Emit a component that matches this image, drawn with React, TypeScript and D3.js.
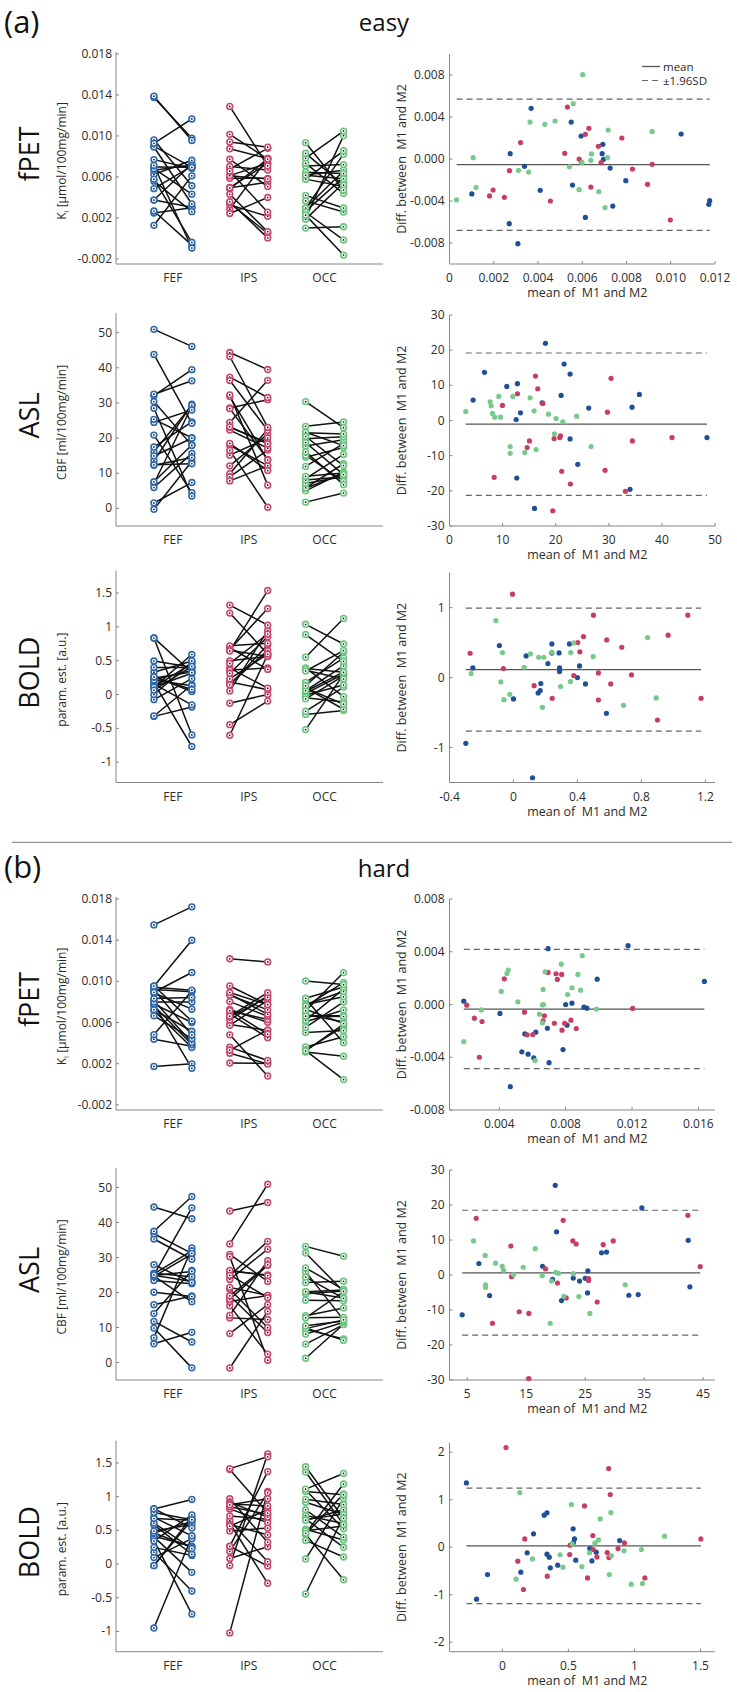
import React from 'react';
import * as d3 from 'd3';

type Pt = [number, number]; // [mean of M1 and M2, M2 - M1]

const regions = ['FEF', 'IPS', 'OCC'];
const ringColors = ['#2f69ad', '#c9476c', '#6cc27f'];
const dotColors = ['#1f4f97', '#c83e62', '#78c98c'];

// ---------- fPET easy (values x 1e-3) ----------
const fpetEasyFEF: Pt[] = [[3.69,4.83],[5.50,3.52],[5.95,2.19],[6.93,1.40],[6.90,0.51],[6.96,-0.03],[7.26,-0.86],[3.39,-0.70],[2.74,0.51],[1.01,-3.33],[4.10,-2.98],[5.56,-2.48],[7.97,-2.06],[7.38,-4.48],[6.14,-5.56],[2.70,-6.16],[3.09,-8.06],[10.47,2.38],[11.76,-3.97],[11.72,-4.32]];
const fpetEasyIPS: Pt[] = [[5.33,4.95],[6.30,2.92],[6.14,2.35],[7.79,2.0],[3.21,1.56],[5.21,0.54],[6.73,1.21],[5.86,0.0],[5.96,-0.32],[6.85,-0.35],[9.16,-0.51],[8.27,-0.95],[2.71,-1.11],[1.97,-2.95],[1.81,-3.52],[2.48,-3.65],[4.56,-4.0],[6.39,-2.67],[8.95,-2.41],[9.98,-5.81]];
const fpetEasyOCC: Pt[] = [[6.02,8.03],[5.59,5.27],[3.64,3.52],[4.31,3.30],[4.77,3.62],[7.17,2.76],[9.16,2.63],[1.07,0.13],[6.42,0.48],[6.39,-0.13],[7.14,0.13],[5.42,-0.73],[5.99,-0.35],[3.12,-1.08],[3.58,-1.24],[1.20,-2.70],[5.86,-2.92],[6.75,-3.11],[0.32,-3.90],[7.03,-4.63]];
const fpetEasyStats = [-0.54, 5.71, -6.79]; // mean, +1.96SD, -1.96SD

// ---------- ASL easy ----------
const aslEasyFEF: Pt[] = [[18.07,21.96],[21.58,16.06],[22.71,13.21],[6.59,13.69],[10.79,9.70],[12.80,10.46],[4.45,5.80],[21.02,7.13],[35.76,7.41],[13.36,2.19],[12.55,0.29],[26.22,3.52],[34.38,3.80],[22.71,-5.23],[48.49,-4.85],[24.15,-12.45],[12.67,-16.35],[34.0,-19.58],[16.0,-25.0],[17.44,5.04]];
const aslEasyIPS: Pt[] = [[16.19,12.64],[16.62,9.03],[30.43,11.98],[12.80,7.60],[9.97,4.28],[17.57,4.85],[29.74,2.38],[19.70,-5.13],[20.89,-4.37],[20.77,-4.85],[15.06,-5.80],[14.62,-7.70],[34.44,-5.80],[41.91,-4.85],[21.14,-14.45],[29.30,-14.16],[22.77,-18.06],[33.12,-20.15],[8.41,-16.16],[19.45,-25.67]];
const aslEasyOCC: Pt[] = [[3.07,2.57],[7.65,5.32],[7.84,4.18],[9.28,6.84],[11.92,6.84],[15.18,6.46],[8.09,2.0],[8.53,0.95],[9.60,0.95],[15.93,2.76],[18.63,1.81],[20.08,0.57],[21.33,-0.38],[23.96,1.24],[19.76,-3.80],[11.42,-7.41],[11.42,-9.32],[14.18,-9.13],[16.31,-8.27],[26.66,-7.41]];
const aslEasyStats = [-1.05, 19.2, -21.3];

// ---------- BOLD easy ----------
const boldEasyFEF: Pt[] = [[-0.298,-0.940],[-0.254,0.138],[-0.088,0.458],[0.079,0.310],[0.0,-0.305],[0.240,0.482],[0.215,0.200],[0.285,0.353],[0.350,0.482],[0.288,0.138],[0.288,0.086],[0.413,0.167],[0.40,0.0],[0.45,-0.091],[0.171,-0.086],[0.154,-0.220],[0.167,-0.186],[0.581,-0.511],[0.119,-1.432],[0.24,0.35]];
const boldEasyIPS: Pt[] = [[-0.006,1.193],[-0.271,0.348],[-0.063,0.129],[0.129,-0.115],[0.242,-0.296],[0.377,0.029],[0.402,0.501],[0.438,0.587],[0.415,0.368],[0.50,0.893],[0.583,0.539],[0.531,0.067],[0.531,-0.320],[0.608,-0.091],[0.677,0.434],[0.738,0.038],[0.90,-0.606],[0.967,0.606],[1.090,0.893],[1.173,-0.296]];
const boldEasyOCC: Pt[] = [[-0.110,0.816],[-0.265,0.057],[-0.069,0.358],[-0.079,-0.062],[-0.060,-0.315],[-0.023,-0.239],[0.067,0.148],[0.106,0.339],[0.158,0.291],[0.190,0.291],[0.240,0.363],[0.181,-0.425],[0.294,-0.129],[0.356,-0.057],[0.358,0.358],[0.377,0.496],[0.498,0.301],[0.688,-0.396],[0.838,0.573],[0.892,-0.291]];
const boldEasyStats = [0.115, 0.993, -0.764];

// ---------- fPET hard (values x 1e-3) ----------
const fpetHardFEF: Pt[] = [[1.86,0.25],[4.04,-0.68],[4.66,-6.23],[5.36,-3.59],[5.74,-3.77],[6.08,-4.05],[5.54,-2.23],[6.20,-2.10],[6.94,4.23],[6.90,-1.80],[7.0,-4.41],[7.84,-3.42],[8.0,0.0],[8.38,0.10],[8.08,-1.57],[9.10,-0.20],[9.28,-0.28],[9.90,1.92],[11.76,4.46],[16.36,1.75]];
const fpetHardIPS: Pt[] = [[2.04,-0.05],[2.50,-1.04],[2.96,-1.29],[2.80,-4.0],[4.30,1.95],[5.52,-0.58],[5.68,-2.30],[6.02,-2.28],[6.64,-1.24],[6.72,-0.86],[6.94,2.43],[7.32,-1.42],[7.42,2.33],[7.50,1.90],[7.76,2.28],[7.78,-1.95],[7.94,-1.42],[8.32,-1.19],[8.64,-1.82],[12.04,-0.30]];
const fpetHardOCC: Pt[] = [[1.86,-2.81],[2.92,-0.41],[4.12,0.99],[4.46,2.35],[4.54,2.61],[5.12,0.20],[6.42,-0.73],[6.60,-1.39],[6.64,1.14],[6.66,0.0],[6.76,2.48],[6.16,-4.25],[7.74,3.06],[8.12,0.76],[8.38,1.27],[8.74,2.28],[8.90,1.09],[9.00,3.70],[9.86,-0.35],[6.60,-0.03]];
const fpetHardStats = [-0.35, 4.18, -4.86];

// ---------- ASL hard ----------
const aslHardFEF: Pt[] = [[4.15,-11.37],[6.98,3.28],[8.79,-5.88],[17.77,2.50],[19.46,-1.25],[19.92,25.63],[20.14,12.33],[20.99,-7.32],[22.97,-0.87],[24.04,-1.73],[25.0,-0.96],[25.45,1.16],[25.40,-5.11],[27.77,6.36],[28.62,6.55],[32.40,-5.78],[33.98,-5.59],[34.60,19.17],[42.46,9.92],[42.74,-3.37]];
const aslHardIPS: Pt[] = [[6.53,16.18],[9.29,-13.78],[12.40,8.29],[12.51,-0.48],[13.81,-10.50],[15.45,-10.98],[18.28,1.73],[20.31,-2.31],[21.27,15.61],[21.78,-6.55],[22.91,9.73],[23.47,8.86],[25.56,-1.06],[25.56,-1.54],[27.03,-7.71],[28.05,8.67],[29.75,9.73],[42.40,17.05],[44.49,2.41],[15.45,-29.58]];
const aslHardOCC: Pt[] = [[6.07,9.73],[8.05,5.59],[8.11,-2.79],[8.11,-3.56],[9.80,3.37],[10.93,2.50],[11.16,1.35],[12.85,0.10],[14.49,2.22],[16.53,7.51],[17.71,-0.19],[19.29,-1.73],[19.07,-13.78],[20.03,0.77],[20.48,0.48],[21.38,-6.07],[23.02,0.39],[23.93,-6.17],[25.79,-10.98],[31.78,-2.79]];
const aslHardStats = [0.58, 18.5, -17.2];

// ---------- BOLD hard ----------
const boldHardFEF: Pt[] = [[-0.272,1.354],[-0.195,-1.095],[-0.112,-0.575],[0.140,-0.526],[0.188,-0.119],[0.236,0.281],[0.317,0.674],[0.338,0.723],[0.338,-0.147],[0.355,-0.211],[0.363,-0.435],[0.419,-0.379],[0.536,0.386],[0.546,0.175],[0.538,0.098],[0.556,-0.274],[0.662,-0.028],[0.678,-0.288],[0.711,-0.105],[0.888,0.140]];
const boldHardIPS: Pt[] = [[0.028,2.098],[0.117,-0.295],[0.170,0.175],[0.160,-0.891],[0.340,-0.611],[0.510,-0.154],[0.513,0.042],[0.622,0.870],[0.645,-0.646],[0.685,0.246],[0.688,-0.049],[0.716,-0.204],[0.794,-0.112],[0.805,1.656],[0.817,1.109],[0.807,-0.218],[0.876,-0.028],[0.924,0.091],[1.079,-0.646],[1.503,0.175]];
const boldHardOCC: Pt[] = [[0.104,-0.674],[0.132,1.151],[0.228,-0.246],[0.437,-0.161],[0.459,-0.421],[0.523,0.898],[0.528,0.070],[0.602,-0.407],[0.660,-0.119],[0.701,0.084],[0.728,0.154],[0.741,0.596],[0.810,-0.575],[0.822,0.730],[0.825,-0.182],[0.921,-0.077],[0.975,-0.779],[1.053,-0.049],[1.061,-0.765],[1.228,0.232]];
const boldHardStats = [0.028, 1.242, -1.186];

// ---------- ticks ----------
const fpetLeftTicks = [-0.002, 0.002, 0.006, 0.010, 0.014, 0.018];
const aslLeftTicks = [0, 10, 20, 30, 40, 50];
const boldLeftTicks = [-1, -0.5, 0, 0.5, 1, 1.5];
const fpetDiffTicks = [-0.008, -0.004, 0, 0.004, 0.008];
const aslDiffTicks = [-30, -20, -10, 0, 10, 20, 30];
const boldEasyDiffTicks = [-1, 0, 1];
const boldHardDiffTicks = [-2, -1, 0, 1, 2];
const fpetEasyMeanTicks = [0, 0.002, 0.004, 0.006, 0.008, 0.010, 0.012];
const fpetHardMeanTicks = [0.004, 0.008, 0.012, 0.016];
const aslEasyMeanTicks = [0, 10, 20, 30, 40, 50];
const aslHardMeanTicks = [5, 15, 25, 35, 45];
const boldEasyMeanTicks = [-0.4, 0, 0.4, 0.8, 1.2];
const boldHardMeanTicks = [0, 0.5, 1, 1.5];

const f3 = (v: number) => (v === 0 ? '0.000' : v.toFixed(3));
const f3x = (v: number) => (v === 0 ? '0' : v.toFixed(3));
const fPlain = (v: number) => String(v);

type Row = {
  name: string; unit: React.ReactNode; top: number; bottom: number; k: number;
  data: Pt[][]; stats: number[];
  leftDomain: [number, number]; leftTicks: number[]; leftFmt: (v: number) => string;
  baX: [number, number]; baXTicks: number[]; baXFmt: (v: number) => string;
  baY: [number, number]; baYTicks: number[]; baYFmt: (v: number) => string;
};

const kiLabel = (
  <>K<tspan fontSize="8" dy="3">i</tspan><tspan dy="-3"> [µmol/100mg/min]</tspan></>
);

const rows: Row[] = [
  { name: 'fPET', unit: kiLabel, top: 54, bottom: 264, k: 1e-3, data: [fpetEasyFEF, fpetEasyIPS, fpetEasyOCC], stats: fpetEasyStats,
    leftDomain: [-0.0025, 0.018], leftTicks: fpetLeftTicks, leftFmt: f3,
    baX: [0, 0.012], baXTicks: fpetEasyMeanTicks, baXFmt: f3x, baY: [-0.01, 0.01], baYTicks: fpetDiffTicks, baYFmt: f3 },
  { name: 'ASL', unit: 'CBF [ml/100mg/min]', top: 315, bottom: 526, k: 1, data: [aslEasyFEF, aslEasyIPS, aslEasyOCC], stats: aslEasyStats,
    leftDomain: [-5, 55], leftTicks: aslLeftTicks, leftFmt: fPlain,
    baX: [0, 50], baXTicks: aslEasyMeanTicks, baXFmt: fPlain, baY: [-30, 30], baYTicks: aslDiffTicks, baYFmt: fPlain },
  { name: 'BOLD', unit: 'param. est. [a.u.]', top: 572.7, bottom: 782.5, k: 1, data: [boldEasyFEF, boldEasyIPS, boldEasyOCC], stats: boldEasyStats,
    leftDomain: [-1.3, 1.8], leftTicks: boldLeftTicks, leftFmt: fPlain,
    baX: [-0.4, 1.26], baXTicks: boldEasyMeanTicks, baXFmt: fPlain, baY: [-1.5, 1.5], baYTicks: boldEasyDiffTicks, baYFmt: fPlain },
  { name: 'fPET', unit: kiLabel, top: 899, bottom: 1110, k: 1e-3, data: [fpetHardFEF, fpetHardIPS, fpetHardOCC], stats: fpetHardStats,
    leftDomain: [-0.0025, 0.018], leftTicks: fpetLeftTicks, leftFmt: f3,
    baX: [0.001, 0.017], baXTicks: fpetHardMeanTicks, baXFmt: f3x, baY: [-0.008, 0.008], baYTicks: fpetDiffTicks, baYFmt: f3 },
  { name: 'ASL', unit: 'CBF [ml/100mg/min]', top: 1170, bottom: 1380, k: 1, data: [aslHardFEF, aslHardIPS, aslHardOCC], stats: aslHardStats,
    leftDomain: [-5, 55], leftTicks: aslLeftTicks, leftFmt: fPlain,
    baX: [2, 47], baXTicks: aslHardMeanTicks, baXFmt: fPlain, baY: [-30, 30], baYTicks: aslDiffTicks, baYFmt: fPlain },
  { name: 'BOLD', unit: 'param. est. [a.u.]', top: 1442.7, bottom: 1651.7, k: 1, data: [boldHardFEF, boldHardIPS, boldHardOCC], stats: boldHardStats,
    leftDomain: [-1.3, 1.8], leftTicks: boldLeftTicks, leftFmt: fPlain,
    baX: [-0.4, 1.61], baXTicks: boldHardMeanTicks, baXFmt: fPlain, baY: [-2.2, 2.2], baYTicks: boldHardDiffTicks, baYFmt: fPlain },
];

const FONT = "'Open Sans', 'Noto Sans', sans-serif";
const AXIS = '#8a8580';
const TXT = '#2b2b2b';
const LX0 = 116, LX1 = 383, RX0 = 449.5, RX1 = 715;
const PRE: React.CSSProperties = { whiteSpace: 'pre' };

function RowView({ row }: { row: Row }) {
  const { top, bottom, k } = row;
  const xCat = d3.scaleLinear().domain([0.25, 3.77]).range([LX0, LX1]);
  const yL = d3.scaleLinear().domain(row.leftDomain).range([bottom, top]);
  const xB = d3.scaleLinear().domain(row.baX).range([RX0, RX1]);
  const yB = d3.scaleLinear().domain(row.baY).range([bottom, top]);
  const mid = (top + bottom) / 2;
  const allMeans = row.data.flat().map((p) => p[0] * k);
  const [mMin, mMax] = d3.extent(allMeans) as [number, number];
  return (
    <g>
      {/* row titles */}
      <text transform={`translate(39,${mid - 5}) rotate(-90)`} textAnchor="middle" fontSize="27" fill="#111">{row.name}</text>
      <text transform={`translate(66,${mid + 2}) rotate(-90)`} textAnchor="middle" fontSize="12" fill={TXT}>{row.unit}</text>

      {/* left axes */}
      <line x1={LX0} x2={LX0} y1={top - 2} y2={bottom} stroke={AXIS} strokeWidth={1} />
      <line x1={LX0} x2={LX1} y1={bottom} y2={bottom} stroke={AXIS} strokeWidth={1} />
      {row.leftTicks.map((t) => (
        <g key={t}>
          <line x1={LX0} x2={LX0 + 3} y1={yL(t)} y2={yL(t)} stroke={AXIS} />
          <text x={LX0 - 4} y={yL(t) + 4} textAnchor="end" fontSize="12" fill={TXT}>{row.leftFmt(t)}</text>
        </g>
      ))}
      {regions.map((r, i) => (
        <text key={r} x={xCat(i + 1)} y={bottom + 18} textAnchor="middle" fontSize="12" fill={TXT}>{r}</text>
      ))}
      {/* pairs */}
      {row.data.map((pts, i) => (
        <g key={'l' + i}>
          {pts.map((p, j) => (
            <line key={j} x1={xCat(i + 0.75)} x2={xCat(i + 1.25)} y1={yL((p[0] - p[1] / 2) * k)} y2={yL((p[0] + p[1] / 2) * k)} stroke="#111" strokeWidth={1.5} />
          ))}
        </g>
      ))}
      {row.data.map((pts, i) => (
        <g key={'c' + i}>
          {pts.flatMap((p, j) => [
            [i + 0.75, (p[0] - p[1] / 2) * k, j * 2],
            [i + 1.25, (p[0] + p[1] / 2) * k, j * 2 + 1],
          ]).map(([cx, v, key]) => (
            <g key={key}>
              <circle cx={xCat(cx)} cy={yL(v)} r={2.9} fill="white" stroke={ringColors[i]} strokeWidth={1.6} />
              <circle cx={xCat(cx)} cy={yL(v)} r={0.85} fill="#111" />
            </g>
          ))}
        </g>
      ))}

      {/* right BA axes */}
      <line x1={RX0} x2={RX0} y1={top} y2={bottom} stroke={AXIS} strokeWidth={1} />
      <line x1={RX0} x2={RX1} y1={bottom} y2={bottom} stroke={AXIS} strokeWidth={1} />
      {row.baYTicks.map((t) => (
        <g key={t}>
          <line x1={RX0} x2={RX0 + 3} y1={yB(t)} y2={yB(t)} stroke={AXIS} />
          <text x={RX0 - 5} y={yB(t) + 4} textAnchor="end" fontSize="12" fill={TXT}>{row.baYFmt(t)}</text>
        </g>
      ))}
      {row.baXTicks.map((t) => (
        <g key={t}>
          <line x1={xB(t)} x2={xB(t)} y1={bottom} y2={bottom - 3} stroke={AXIS} />
          <text x={xB(t)} y={bottom + 18} textAnchor="middle" fontSize="12" fill={TXT}>{row.baXFmt(t)}</text>
        </g>
      ))}
      <text x={(RX0 + RX1) / 2 + 5} y={bottom + 33} textAnchor="middle" fontSize="12.5" fill={TXT} style={PRE}>{'mean of  M1 and M2'}</text>
      <text transform={`translate(406,${mid}) rotate(-90)`} textAnchor="middle" fontSize="12.5" fill={TXT} style={PRE}>{'Diff. between  M1 and M2'}</text>

      {/* stats lines */}
      <line x1={xB(mMin)} x2={xB(mMax)} y1={yB(row.stats[0] * k)} y2={yB(row.stats[0] * k)} stroke="#555" strokeWidth={1.3} />
      <line x1={xB(mMin)} x2={xB(mMax)} y1={yB(row.stats[1] * k)} y2={yB(row.stats[1] * k)} stroke="#666" strokeWidth={1.2} strokeDasharray="6,4" />
      <line x1={xB(mMin)} x2={xB(mMax)} y1={yB(row.stats[2] * k)} y2={yB(row.stats[2] * k)} stroke="#666" strokeWidth={1.2} strokeDasharray="6,4" />

      {row.data.map((pts, i) => (
        <g key={'b' + i}>
          {pts.map((p, j) => (
            <circle key={j} cx={xB(p[0] * k)} cy={yB(p[1] * k)} r={2.6} fill={dotColors[i]} />
          ))}
        </g>
      ))}
    </g>
  );
}

export default function App() {
  return (
    <svg width={737} height={1692} style={{ display: 'block', position: 'absolute', left: 0, top: 0, background: 'white' }} fontFamily={FONT}>
      <rect x={0} y={0} width={737} height={1692} fill="white" />
      <text x={4} y={33} fontSize="31" fill="#111">(a)</text>
      <text x={384} y={31} textAnchor="middle" fontSize="24" fill="#111">easy</text>
      <line x1={12} x2={732} y1={842.3} y2={842.3} stroke="#777" strokeWidth={1} />
      <text x={4} y={878} fontSize="31" fill="#111">(b)</text>
      <text x={384} y={877} textAnchor="middle" fontSize="24" fill="#111">hard</text>

      {/* legend */}
      <line x1={642} x2={660} y1={66.5} y2={66.5} stroke="#555" strokeWidth={1.3} />
      <text x={663} y={70.5} fontSize="11.5" fill={TXT}>mean</text>
      <line x1={642} x2={660} y1={80.5} y2={80.5} stroke="#666" strokeWidth={1.2} strokeDasharray="6,4" />
      <text x={663} y={84.5} fontSize="11.5" fill={TXT}>±1.96SD</text>

      {rows.map((r, i) => <RowView key={i} row={r} />)}
    </svg>
  );
}
